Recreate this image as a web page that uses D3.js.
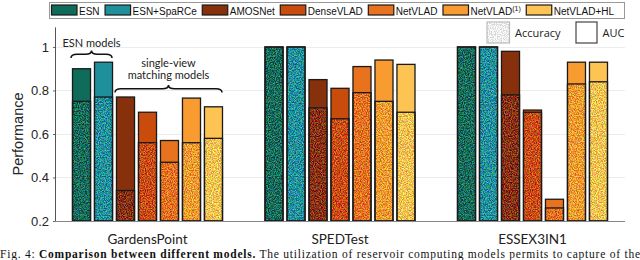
<!DOCTYPE html>
<html>
<head>
<meta charset="utf-8">
<script src="https://cdn.jsdelivr.net/npm/d3@7"></script>
<style>
  body { margin: 0; background: #fff; }
  svg { display: block; }
</style>
</head>
<body>
<div id="chart"></div>
<script>
// datasets on the x axis, models inside each group
const datasets = ["GardensPoint", "SPEDTest", "ESSEX3IN1"];
const models = ["ESN", "ESN+SpaRCe", "AMOSNet", "DenseVLAD", "NetVLAD", "NetVLAD(1)", "NetVLAD+HL"];
const modelColors = ["#0f6b5a", "#1f8f9b", "#86300c", "#c94c0d", "#e8721d", "#f89b30", "#fdc353"];

// one row per dataset, one value per model
const aucValues = [
    [0.90, 0.93, 0.77, 0.70, 0.57, 0.765, 0.725],
    [1.00, 1.00, 0.85, 0.81, 0.91, 0.94, 0.92],
    [1.00, 1.00, 0.98, 0.71, 0.30, 0.93, 0.93]
];
const accValues = [
    [0.75, 0.77, 0.34, 0.56, 0.47, 0.56, 0.58],
    [1.00, 1.00, 0.72, 0.67, 0.79, 0.75, 0.70],
    [1.00, 1.00, 0.78, 0.70, 0.26, 0.83, 0.84]
];
const yTicks = [0.2, 0.4, 0.6, 0.8, 1];

const width = 640, height = 260;
const margin = { left: 55, right: 15, top: 27.4, bottom: 39 };

const svg = d3.select("#chart").append("svg")
    .attr("width", width)
    .attr("height", height);

// speckle texture used for the accuracy part of each bar
const defs = svg.append("defs");
function addSpeckle(id, matrix, amount) {
    const filt = defs.append("filter")
        .attr("id", id)
        .attr("x", 0).attr("y", 0).attr("width", 1).attr("height", 1)
        .attr("color-interpolation-filters", "sRGB");
    filt.append("feTurbulence")
        .attr("type", "fractalNoise")
        .attr("baseFrequency", 0.85)
        .attr("numOctaves", 2)
        .attr("seed", 4)
        .attr("result", "raw");
    // stretch the noise contrast and make it opaque
    filt.append("feColorMatrix")
        .attr("in", "raw")
        .attr("type", "matrix")
        .attr("values", matrix)
        .attr("result", "noise");
    filt.append("feComposite")
        .attr("in", "SourceGraphic").attr("in2", "noise")
        .attr("operator", "arithmetic")
        .attr("k1", 0).attr("k2", 1).attr("k3", amount).attr("k4", -amount / 2)
        .attr("result", "mix");
    filt.append("feComposite")
        .attr("in", "mix").attr("in2", "SourceGraphic")
        .attr("operator", "in");
}
addSpeckle("speckle", "3.2 0 0 0 -1.1  0 3.2 0 0 -1.1  0 0 3.2 0 -1.1  0 0 0 0 1", 0.45);
addSpeckle("speckleGray", "3.2 0 0 0 -1.1  3.2 0 0 0 -1.1  3.2 0 0 0 -1.1  0 0 0 0 1", 0.2);

const y = d3.scaleLinear()
    .domain([0.2, 1.09])
    .range([height - margin.bottom, margin.top]);

const x0 = d3.scaleBand()
    .domain(datasets)
    .range([51.25, 628.75]);

const x1 = d3.scaleBand()
    .domain(models)
    .range([21.25, 171.25])
    .paddingInner(0.18)
    .paddingOuter(0);

const plotRight = width - margin.right;

// gridlines
svg.append("g")
    .selectAll("line")
    .data(yTicks.filter(d => d > 0.2))
    .join("line")
    .attr("x1", margin.left)
    .attr("x2", plotRight)
    .attr("y1", d => Math.round(y(d)) + 0.5)
    .attr("y2", d => Math.round(y(d)) + 0.5)
    .attr("stroke", "#ececec");

// y axis
const yAxis = svg.append("g")
    .attr("transform", `translate(${margin.left + 0.5},0)`)
    .call(d3.axisLeft(y).tickValues(yTicks).tickSize(2.5).tickPadding(4).tickFormat(d3.format("~g")));
yAxis.select(".domain").remove();
yAxis.selectAll(".tick line").attr("stroke", "#666");
yAxis.selectAll(".tick text")
    .attr("font-family", "'Liberation Sans', Arial, sans-serif")
    .attr("font-size", 13)
    .attr("fill", "#262626");
svg.append("line")
    .attr("x1", margin.left + 0.5).attr("x2", margin.left + 0.5)
    .attr("y1", y(1.09)).attr("y2", y(0.2))
    .attr("stroke", "#555");

svg.append("text")
    .attr("transform", `translate(23,${(y(0.2) + y(1)) / 2}) rotate(-90)`)
    .attr("text-anchor", "middle")
    .attr("font-family", "'Liberation Sans', Arial, sans-serif")
    .attr("font-size", 14.5)
    .attr("fill", "#262626")
    .text("Performance");

// bars
const groups = svg.append("g")
    .selectAll("g")
    .data(datasets)
    .join("g")
    .attr("transform", d => `translate(${x0(d)},0)`);

const barData = (ds, i) => models.map((m, j) => ({
    model: m, color: modelColors[j], auc: aucValues[i][j], acc: accValues[i][j]
}));

const bars = groups.selectAll("g")
    .data(barData)
    .join("g");

bars.append("rect")
    .attr("x", d => x1(d.model))
    .attr("width", x1.bandwidth())
    .attr("y", d => y(d.auc))
    .attr("height", d => y(0.2) - y(d.auc))
    .attr("fill", d => d.color);

bars.append("rect")
    .attr("x", d => x1(d.model))
    .attr("width", x1.bandwidth())
    .attr("y", d => y(d.acc))
    .attr("height", d => y(0.2) - y(d.acc))
    .attr("fill", d => d.color)
    .attr("filter", "url(#speckle)");

bars.append("rect")
    .attr("x", d => x1(d.model))
    .attr("width", x1.bandwidth())
    .attr("y", d => y(d.acc))
    .attr("height", d => y(0.2) - y(d.acc))
    .attr("fill", "none")
    .attr("stroke", "#1a1a1a")
    .attr("stroke-width", 1.3);

bars.append("rect")
    .attr("x", d => x1(d.model))
    .attr("width", x1.bandwidth())
    .attr("y", d => y(d.auc))
    .attr("height", d => y(0.2) - y(d.auc))
    .attr("fill", "none")
    .attr("stroke", "#1a1a1a")
    .attr("stroke-width", 1.3);

// x baseline
svg.append("line")
    .attr("x1", margin.left).attr("x2", plotRight)
    .attr("y1", y(0.2) + 0.5).attr("y2", y(0.2) + 0.5)
    .attr("stroke", "#888");

// dataset labels
svg.append("g")
    .selectAll("text")
    .data(datasets)
    .join("text")
    .attr("x", d => x0(d) + x0.bandwidth() / 2)
    .attr("y", 244)
    .attr("text-anchor", "middle")
    .attr("font-family", "Lato, 'Open Sans', sans-serif")
    .attr("font-size", 13.5)
    .attr("fill", "#222")
    .text(d => d);

// curly braces over the model families
function bracePath(xa, xb, yt, h) {
    const xm = (xa + xb) / 2, q = 6, ym = yt + h / 2;
    return `M${xa},${yt + h} Q${xa},${ym} ${xa + q},${ym} L${xm - q},${ym} Q${xm},${ym} ${xm},${yt}` +
        ` Q${xm},${ym} ${xm + q},${ym} L${xb - q},${ym} Q${xb},${ym} ${xb},${yt + h}`;
}
const g0 = x0(datasets[0]);
const braces = [
    { from: models[0], to: models[1], y: 50.5, label: ["ESN models"], labelY: 46.5 },
    { from: models[2], to: models[6], y: 85, label: ["single-view", "matching models"], labelY: 66.5 }
];
braces.forEach(b => {
    const xa = g0 + x1(b.from) - 1.5;
    const xb = g0 + x1(b.to) + x1.bandwidth() - 0.5;
    svg.append("path")
        .attr("d", bracePath(xa, xb, b.y, 7.5))
        .attr("fill", "none")
        .attr("stroke", "#111")
        .attr("stroke-width", 1.5);
    svg.append("g").selectAll("text")
        .data(b.label)
        .join("text")
        .attr("x", (xa + xb) / 2)
        .attr("y", (d, i) => b.labelY + i * 12.7)
        .attr("text-anchor", "middle")
        .attr("font-family", "Lato, 'Open Sans', sans-serif")
        .attr("font-size", 11)
        .attr("fill", "#222")
        .text(d => d);
});

// top legend with the model colours
const legend = svg.append("g");
legend.append("rect")
    .attr("x", 49.5).attr("y", 2.5)
    .attr("width", 575).attr("height", 16)
    .attr("fill", "#fff")
    .attr("stroke", "#999");
let lx = 51;
models.forEach((m, j) => {
    legend.append("rect")
        .attr("x", lx + 0.5).attr("y", 5)
        .attr("width", 25.5).attr("height", 10)
        .attr("fill", modelColors[j])
        .attr("stroke", "#1a1a1a")
        .attr("stroke-width", 1.2);
    const t = legend.append("text")
        .attr("x", lx + 28)
        .attr("y", 14.5)
        .attr("font-family", "'Liberation Sans', Arial, sans-serif")
        .attr("font-size", 10)
        .attr("fill", "#111");
    const sup = m.match(/^(.*)\((\d)\)$/);
    if (sup) {
        t.append("tspan").text(sup[1]);
        t.append("tspan").attr("dy", -4).attr("font-size", 7).text(`(${sup[2]})`);
    } else {
        t.text(m);
    }
    lx += 28 + t.node().getComputedTextLength() + 5;
});

// accuracy / AUC key
const keys = [
    { name: "Accuracy", x: 487, w: 22.5, textured: true },
    { name: "AUC", x: 576, w: 21, textured: false }
];
keys.forEach(k => {
    svg.append("rect")
        .attr("x", k.x).attr("y", 22)
        .attr("width", k.w).attr("height", 21)
        .attr("fill", k.textured ? "#eeeeee" : "#fff")
        .attr("filter", k.textured ? "url(#speckleGray)" : null);
    svg.append("rect")
        .attr("x", k.x).attr("y", 22)
        .attr("width", k.w).attr("height", 21)
        .attr("fill", "none")
        .attr("stroke", k.textured ? "#bbb" : "#444")
        .attr("stroke-width", 1.2);
    svg.append("text")
        .attr("x", k.x + k.w + 5.5)
        .attr("y", 37)
        .attr("font-family", "'Open Sans', sans-serif")
        .attr("font-size", 11)
        .attr("fill", "#222")
        .text(k.name);
});

// caption along the bottom edge
const cap = svg.append("text")
    .attr("x", 0)
    .attr("y", 257.5)
    .attr("font-family", "'Liberation Serif', 'DejaVu Serif', serif")
    .attr("font-size", 11.5)
    .attr("fill", "#111")
    .attr("textLength", 640)
    .attr("lengthAdjust", "spacing");
cap.append("tspan").text("Fig. 4: ");
cap.append("tspan").attr("font-weight", "bold").text("Comparison between different models.");
cap.append("tspan").text(" The utilization of reservoir computing models permits to capture of the");
</script>
</body>
</html>
